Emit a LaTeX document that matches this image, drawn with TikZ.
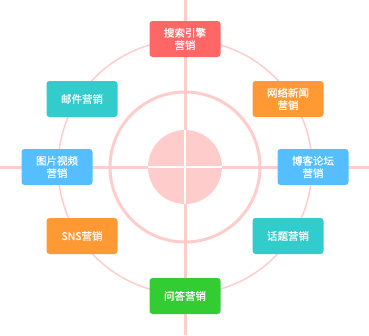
\documentclass[tikz,border=0pt]{standalone}
\usepackage{fontspec}
\newfontfamily\cjk[FakeBold=0.6]{Noto Sans CJK SC}
\definecolor{RingPink}{RGB}{255,204,204}
\definecolor{BoxRed}{RGB}{255,102,102}
\definecolor{BoxOrange}{RGB}{255,153,51}
\definecolor{BoxTeal}{RGB}{51,204,204}
\definecolor{BoxBlue}{RGB}{85,190,255}
\definecolor{BoxGreen}{RGB}{51,204,51}
\tikzset{
  mbox/.style={rounded corners=3pt, minimum width=71pt, minimum height=36pt, inner sep=0pt,
    text=white, align=center, font=\cjk\fontsize{10.5}{12.5}\selectfont}
}

\begin{document}
\begin{tikzpicture}[x=1pt, y=-1pt]
                \useasboundingbox (0,0) rectangle (369,335);
                \coordinate (c) at (185,167);

                % Cross and rings
                \draw[RingPink, line width=3pt] (185,0) -- (185,335);
                \draw[RingPink, line width=3pt] (0,167) -- (369,167);
                \draw[RingPink, line width=1.5pt] (c) circle (127pt);
                \draw[RingPink, line width=3pt] (c) circle (75pt);
                \fill[RingPink] (c) circle (37pt);
                \draw[white, line width=2pt] (185,130) -- (185,204);
                \draw[white, line width=2pt] (148,167) -- (222,167);

                % Channels
                \node[mbox, fill=BoxRed] (search) at (185,39) {搜索引擎\\营销};
                \node[mbox, fill=BoxOrange] (news) at (288,99) {网络新闻\\营销};
                \node[mbox, fill=BoxBlue] (blog) at (313,167) {博客论坛\\营销};
                \node[mbox, fill=BoxTeal] (topic) at (288,236) {话题营销};
                \node[mbox, fill=BoxGreen] (qa) at (185,296) {问答营销};
                \node[mbox, fill=BoxOrange] (sns) at (82,236) {SNS营销};
                \node[mbox, fill=BoxBlue] (video) at (57,167) {图片视频\\营销};
                \node[mbox, fill=BoxTeal] (mail) at (82,99) {邮件营销};
            \end{tikzpicture}
\end{document}
